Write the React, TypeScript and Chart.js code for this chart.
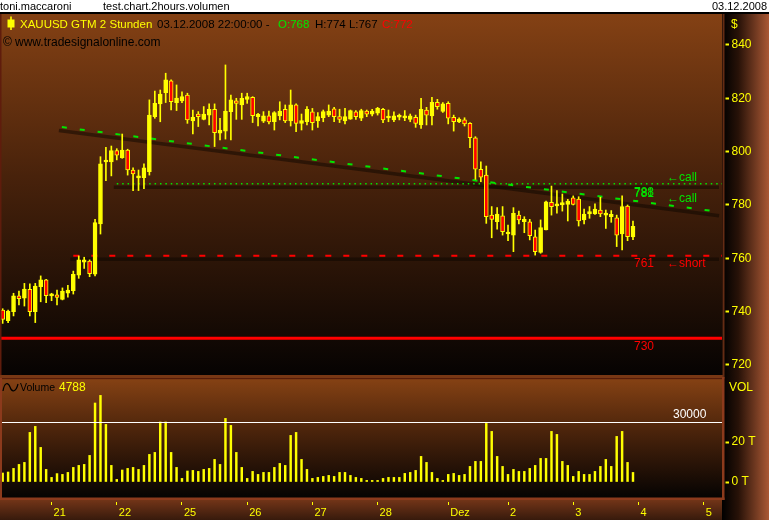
import React, { useEffect, useRef } from 'react';
import { Chart, registerables } from 'chart.js';

Chart.register(...registerables);

// ---------------- data ----------------
const openP = [740.6, 736.6, 740.0, 745.9, 745.1, 748.4, 740.0, 749.4, 751.9, 745.9, 746.3, 744.6, 746.9, 747.9, 753.7, 758.6, 759.0, 754.1, 772.9, 796.1, 796.1, 800.4, 797.6, 800.6, 793.1, 790.1, 790.2, 792.5, 813.1, 817.9, 822.1, 826.5, 818.4, 819.0, 821.2, 811.5, 814.1, 812.1, 813.7, 815.9, 806.9, 807.7, 815.0, 819.0, 817.5, 819.6, 820.4, 813.1, 811.4, 813.4, 811.2, 813.4, 815.9, 811.5, 817.5, 810.6, 811.2, 814.9, 811.5, 812.7, 813.7, 816.0, 813.1, 811.5, 812.2, 814.9, 812.5, 815.2, 814.0, 814.4, 815.9, 812.6, 811.9, 812.9, 812.6, 812.1, 812.9, 810.0, 815.6, 813.4, 818.5, 815.1, 818.1, 812.9, 811.2, 811.9, 810.6, 805.2, 793.4, 791.2, 776.2, 773.7, 775.9, 769.1, 768.7, 776.2, 773.7, 773.7, 768.1, 762.2, 770.6, 781.0, 779.6, 780.0, 780.2, 782.7, 782.2, 774.4, 776.6, 776.6, 778.1, 776.2, 775.6, 775.2, 769.1, 779.6, 768];
const highP = [741.1, 740.6, 746.9, 747.7, 750.6, 750.4, 750.6, 753.4, 752.1, 746.9, 748.1, 748.9, 749.9, 755.2, 760.9, 760.4, 759.4, 774.6, 798.1, 801.6, 802.1, 801.1, 806.6, 800.9, 793.9, 793.1, 795.4, 819.4, 822.7, 823.1, 829.4, 826.9, 825.0, 822.4, 821.9, 815.6, 815.0, 816.9, 817.9, 817.9, 812.5, 832.5, 821.2, 820.0, 821.9, 821.9, 820.6, 814.4, 815.0, 815.2, 815.0, 818.7, 817.5, 823.1, 817.9, 814.1, 816.9, 816.2, 814.6, 815.6, 817.5, 816.6, 815.9, 816.2, 815.6, 815.4, 815.9, 815.6, 815.9, 816.6, 816.2, 815.6, 814.9, 814.1, 815.4, 814.1, 813.7, 820.0, 816.6, 820.4, 819.6, 818.4, 818.7, 813.7, 812.7, 812.7, 810.9, 805.6, 796.2, 794.6, 779.4, 779.0, 779.4, 772.5, 779.0, 777.7, 775.6, 774.6, 770.6, 774.4, 781.5, 787.1, 785.4, 784.1, 782.1, 783.4, 783.1, 778.5, 779.4, 780.4, 782.9, 778.1, 777.9, 776.2, 783.4, 780.0, 774];
const lowP = [735.6, 735.9, 738.4, 742.5, 742.1, 738.4, 735.9, 743.7, 743.4, 744.1, 742.5, 744.4, 745.4, 746.6, 752.5, 756.2, 753.1, 753.4, 769.1, 789.1, 790.9, 796.9, 797.5, 791.2, 785.4, 785.4, 786.1, 791.2, 812.5, 811.2, 818.4, 815.6, 815.4, 818.4, 810.6, 806.6, 809.4, 811.9, 810.0, 801.9, 804.4, 804.7, 804.4, 812.1, 812.1, 818.1, 810.9, 809.6, 810.9, 810.4, 808.1, 811.9, 810.9, 809.6, 807.5, 808.1, 810.0, 808.1, 809.1, 811.2, 813.1, 811.2, 810.9, 810.4, 812.1, 812.1, 811.6, 813.1, 813.4, 813.7, 810.9, 811.2, 811.2, 811.9, 811.6, 811.2, 809.1, 808.7, 810.0, 810.0, 815.9, 814.7, 810.4, 807.7, 810.9, 809.6, 801.5, 789.6, 788.7, 773.1, 767.7, 770.9, 768.7, 766.6, 762.5, 772.9, 769.6, 766.9, 761.2, 761.9, 770.6, 776.2, 776.9, 777.7, 774.0, 780.0, 772.1, 772.9, 775.0, 776.5, 775.6, 771.2, 773.5, 764.4, 763.1, 766.6, 767];
const closeP = [737.1, 740.2, 745.9, 744.9, 748.5, 740.0, 749.6, 751.9, 746.0, 746.6, 745.3, 747.7, 748.1, 754.0, 759.4, 759.4, 754.2, 773.4, 795.4, 796.5, 800.4, 798.7, 800.6, 793.1, 791.6, 790.9, 793.9, 813.7, 818.1, 821.6, 826.9, 818.7, 820.1, 820.6, 811.9, 812.9, 813.1, 814.1, 815.9, 807.1, 808.1, 815.2, 819.4, 818.1, 820.0, 820.6, 813.5, 814.0, 813.4, 811.1, 814.6, 815.2, 811.5, 817.5, 810.6, 811.6, 815.9, 810.9, 813.1, 815.0, 815.2, 813.1, 812.1, 813.1, 815.4, 813.1, 815.4, 814.0, 815.2, 816.2, 811.9, 813.1, 813.4, 813.5, 813.4, 813.4, 810.6, 815.9, 813.7, 818.5, 816.9, 817.9, 812.5, 811.2, 812.2, 810.4, 805.2, 793.4, 790.4, 775.6, 774.6, 776.6, 770.0, 769.6, 776.9, 774.4, 774.6, 768.5, 762.5, 771.5, 781.2, 779.4, 780.4, 780.9, 781.5, 780.2, 774.0, 776.6, 777.5, 778.5, 776.6, 776.4, 776.5, 768.7, 779.4, 768.1, 772];
const volume = [4500, 5000, 6800, 8800, 9800, 24800, 27800, 17300, 6300, 2300, 4200, 3800, 4800, 7300, 8300, 8800, 13300, 39500, 43300, 28800, 8300, 1300, 6000, 6800, 7300, 6300, 8300, 13800, 14800, 30000, 30000, 14800, 7300, 1800, 5500, 5800, 5300, 6300, 6800, 11300, 8800, 31800, 28300, 14800, 7300, 1800, 5300, 3800, 4800, 4800, 7300, 9300, 8300, 23300, 24800, 11300, 6300, 1800, 2300, 2800, 3300, 2800, 4800, 4800, 3300, 2300, 1800, 800, 800, 800, 1800, 2300, 2300, 2300, 4300, 4800, 5800, 12800, 9800, 4800, 1800, 800, 3800, 4300, 3300, 3800, 7800, 10300, 10300, 29300, 25300, 12800, 7800, 3800, 6300, 5300, 5300, 6800, 8300, 11800, 11800, 25300, 23800, 10300, 8300, 2800, 5300, 3800, 3800, 5300, 7800, 11300, 7800, 22800, 25300, 9800, 4788];

const dayTickIdx = [9, 21, 33, 45, 57, 69, 82, 93, 105, 117, 129];
const dayLabels = ['21', '22', '25', '26', '27', '28', 'Dez', '2', '3', '4', '5'];
const priceTicks = [720, 740, 760, 780, 800, 820, 840];
const volTicks = [0, 20000];
const volTickLabels = ['0 T', '20 T'];

const trendX = [10.9, 132.4];
const trendY = [809.2, 777.3];
const trendAtLast = 781;
const callLevel = 788;
const callStart = 21;
const shortLevel = 761;
const shortStart = 13;
const stopLevel = 730;
const volRefLevel = 30000;

const userName = 'toni.maccaroni';
const chartName = 'test.chart.2hours.volumen';
const printDate = '03.12.2008';
const symbolTitle = 'XAUUSD GTM 2 Stunden';
const lastBarTime = '03.12.2008 22:00:00';
const sourceText = 'www.tradesignalonline.com';

// ---------------- styling ----------------
const YEL = '#ffff00';
const RED = '#ff0000';
const GRN = '#00e600';
const FONT = '"Liberation Sans", Arial, sans-serif';

const X_MIN = -0.491;
const X_MAX = 132.38;
const P_MIN = 716.25;
const P_MAX = 851.6;
const V_MIN = -8000;
const V_MAX = 52000;

const rightAxisGradient = (ctx: CanvasRenderingContext2D, x0: number, x1: number) => {
  const g = ctx.createLinearGradient(x0, 0, x1, 0);
  g.addColorStop(0, 'rgb(0,0,0)');
  g.addColorStop(0.35, 'rgb(40,18,8)');
  g.addColorStop(1, 'rgb(170,88,52)');
  return g;
};

export default function App() {
  const priceRef = useRef<HTMLCanvasElement>(null);
  const volRef = useRef<HTMLCanvasElement>(null);

  useEffect(() => {
    const n = openP.length;
    const idx = openP.map((_, i) => i);
    const last = n - 1;

    const pricePlugin = {
      id: 'pricePlugin',
      beforeDraw(chart: any) {
        const { ctx, chartArea: a } = chart;
        const W = chart.width;
        const H = chart.height;
        ctx.save();
        ctx.fillStyle = '#ffffff';
        ctx.fillRect(0, 0, W, 12);
        ctx.fillStyle = '#000000';
        ctx.fillRect(0, 12, W, 2);
        const g = ctx.createLinearGradient(0, a.top, 0, a.bottom);
        g.addColorStop(0, 'rgb(132,65,20)');
        g.addColorStop(0.45, 'rgb(72,34,11)');
        g.addColorStop(1, 'rgb(6,3,2)');
        ctx.fillStyle = g;
        ctx.fillRect(a.left, a.top, a.right - a.left, a.bottom - a.top);
        ctx.fillStyle = rightAxisGradient(ctx, a.right, W);
        ctx.fillRect(a.right, 14, W - a.right, H - 14);
        ctx.fillStyle = 'rgb(120,55,20)';
        ctx.fillRect(0, a.bottom, a.right + 2, H - a.bottom);
        ctx.restore();
      },
      beforeDatasetsDraw(chart: any) {
        const { ctx, chartArea: a } = chart;
        const xs = chart.scales.x;
        const ys = chart.scales.y;
        ctx.save();
        ctx.beginPath();
        ctx.rect(a.left, a.top, a.right - a.left, a.bottom - a.top);
        ctx.clip();
        ctx.strokeStyle = 'rgba(12,5,0,0.5)';
        ctx.lineWidth = 3.5;
        const seg = (x0: number, y0: number, x1: number, y1: number) => {
          ctx.beginPath();
          ctx.moveTo(xs.getPixelForValue(x0) - 3, ys.getPixelForValue(y0) + 3.5);
          ctx.lineTo(xs.getPixelForValue(x1) - 3, ys.getPixelForValue(y1) + 3.5);
          ctx.stroke();
        };
        seg(trendX[0], trendY[0], trendX[1], trendY[1]);
        seg(callStart, callLevel, X_MAX, callLevel);
        seg(shortStart, shortLevel, X_MAX, shortLevel);
        ctx.restore();
      },
      afterDraw(chart: any) {
        const { ctx, chartArea: a } = chart;
        const ys = chart.scales.y;
        const yp = (v: number) => ys.getPixelForValue(v);
        ctx.save();
        // frame
        ctx.fillStyle = 'rgb(95,28,12)';
        ctx.fillRect(0, a.top, 1.5, a.bottom - a.top);
        ctx.fillStyle = 'rgb(100,44,20)';
        ctx.fillRect(a.right + 0.5, a.top, 2, a.bottom - a.top + 2);

        ctx.textAlign = 'left';
        ctx.textBaseline = 'alphabetic';
        ctx.font = `11px ${FONT}`;
        ctx.fillStyle = '#000';
        ctx.fillText(userName, 0, 10);
        ctx.fillText(chartName, 103, 10);
        ctx.textAlign = 'right';
        ctx.fillText(printDate, 767, 10);
        ctx.textAlign = 'left';

        // header line 1
        ctx.fillStyle = YEL;
        ctx.fillRect(10.2, 16.5, 1.6, 13.5);
        ctx.fillRect(7.5, 19.5, 7, 8);
        ctx.font = `11.5px ${FONT}`;
        ctx.fillText(symbolTitle, 20, 28);
        ctx.fillStyle = '#000';
        ctx.fillText(`${lastBarTime} -`, 157, 28);
        ctx.fillStyle = GRN;
        ctx.fillText(`O:${openP[last]}`, 278, 28);
        ctx.fillStyle = '#000';
        ctx.fillText(`H:${highP[last]} L:${lowP[last]}`, 315, 28);
        ctx.fillStyle = RED;
        ctx.fillText(`C:${closeP[last]}`, 382, 28);
        // header line 2
        ctx.font = `12px ${FONT}`;
        ctx.fillStyle = '#000';
        ctx.fillText('\u00a9', 3, 45.5);
        ctx.fillText(sourceText, 15, 45.5);
        ctx.fillStyle = YEL;
        ctx.fillText('$', 731, 28);

        // level labels
        ctx.font = `12px ${FONT}`;
        ctx.fillStyle = GRN;
        ctx.fillText('\u2190', 667, yp(callLevel) - 3);
        ctx.fillText('call', 679, yp(callLevel) - 3);
        ctx.fillText('\u2190', 667, yp(trendAtLast));
        ctx.fillText('call', 679, yp(trendAtLast));
        ctx.fillText(String(callLevel), 634, yp(callLevel) + 12);
        ctx.fillText(String(trendAtLast), 634, yp(trendAtLast) - 5);
        ctx.fillStyle = RED;
        ctx.fillText(String(shortLevel), 634, yp(shortLevel) + 11);
        ctx.fillText('\u2190', 667, yp(shortLevel) + 11);
        ctx.fillText('short', 679, yp(shortLevel) + 11);
        ctx.fillText(String(stopLevel), 634, yp(stopLevel) + 12);
        ctx.restore();
      },
    };

    const c1 = new Chart(priceRef.current as HTMLCanvasElement, {
      type: 'bar',
      data: {
        datasets: [
          {
            type: 'bar',
            label: 'body',
            data: idx.map((i) => ({ x: i, y: [openP[i], closeP[i]] })) as any,
            backgroundColor: idx.map((i) => (closeP[i] >= openP[i] ? YEL : RED)),
            borderColor: YEL,
            borderWidth: 1,
            borderSkipped: false,
            barThickness: 4,
            minBarLength: 2,
            grouped: false,
            order: 1,
          } as any,
          {
            type: 'bar',
            label: 'wick',
            data: idx.map((i) => ({ x: i, y: [lowP[i], highP[i]] })) as any,
            backgroundColor: YEL,
            borderWidth: 0,
            barThickness: 1,
            grouped: false,
            order: 2,
          } as any,
          {
            type: 'line',
            label: 'trend',
            data: trendX.map((x, k) => ({ x, y: trendY[k] })),
            borderColor: GRN,
            borderWidth: 2,
            borderDash: [5, 13],
            pointRadius: 0,
            tension: 0,
            order: 3,
          } as any,
          {
            type: 'line',
            label: 'call',
            data: [{ x: callStart, y: callLevel }, { x: X_MAX, y: callLevel }],
            borderColor: GRN,
            borderWidth: 1.5,
            borderDash: [1.5, 3.9],
            pointRadius: 0,
            order: 3,
          } as any,
          {
            type: 'line',
            label: 'short',
            data: [{ x: shortStart, y: shortLevel }, { x: X_MAX, y: shortLevel }],
            borderColor: RED,
            borderWidth: 2,
            borderDash: [6, 12],
            pointRadius: 0,
            order: 3,
          } as any,
          {
            type: 'line',
            label: 'stop',
            data: [{ x: X_MIN, y: stopLevel }, { x: X_MAX, y: stopLevel }],
            borderColor: RED,
            borderWidth: 3,
            pointRadius: 0,
            order: 3,
          } as any,
        ],
      },
      options: {
        responsive: false,
        animation: false,
        events: [],
        layout: { padding: { top: 14, bottom: 2, left: 0, right: 0 } },
        plugins: { legend: { display: false }, tooltip: { enabled: false } },
        scales: {
          x: {
            type: 'linear',
            min: X_MIN,
            max: X_MAX,
            display: false,
            offset: false,
            grid: { offset: false },
          },
          y: {
            type: 'linear',
            position: 'right',
            min: P_MIN,
            max: P_MAX,
            afterBuildTicks: (s: any) => {
              s.ticks = priceTicks.map((v) => ({ value: v }));
            },
            afterFit: (s: any) => {
              s.width = 47;
              s.paddingTop = 0;
              s.paddingBottom = 0;
            },
            grid: {
              drawOnChartArea: false,
              drawTicks: true,
              tickLength: 7,
              tickColor: YEL,
              tickWidth: 2,
              tickBorderDash: [0, 3.5, 4, 20],
            },
            border: { display: false },
            ticks: {
              color: YEL,
              font: { family: FONT, size: 12 },
              padding: 2.5,
              callback: (v: any) => String(v),
            },
          },
        },
      } as any,
      plugins: [pricePlugin],
    });

    const volPlugin = {
      id: 'volPlugin',
      beforeDraw(chart: any) {
        const { ctx, chartArea: a } = chart;
        const W = chart.width;
        const H = chart.height;
        ctx.save();
        const g = ctx.createLinearGradient(0, a.top, 0, a.bottom);
        g.addColorStop(0, 'rgb(134,66,20)');
        g.addColorStop(0.45, 'rgb(74,35,11)');
        g.addColorStop(1, 'rgb(5,3,2)');
        ctx.fillStyle = g;
        ctx.fillRect(a.left, a.top, a.right - a.left, a.bottom - a.top);
        const gb = ctx.createLinearGradient(0, a.bottom, 0, H);
        gb.addColorStop(0, 'rgb(120,55,25)');
        gb.addColorStop(1, 'rgb(55,26,12)');
        ctx.fillStyle = gb;
        ctx.fillRect(0, a.bottom, a.right, H - a.bottom);
        ctx.fillStyle = rightAxisGradient(ctx, a.right, W);
        ctx.fillRect(a.right, 0, W - a.right, H);
        ctx.restore();
      },
      afterDatasetsDraw(chart: any) {
        const { ctx, chartArea: a } = chart;
        const y = Math.round(chart.scales.y.getPixelForValue(volRefLevel)) + 0.5;
        ctx.save();
        ctx.strokeStyle = '#ffffff';
        ctx.lineWidth = 1;
        ctx.beginPath();
        ctx.moveTo(a.left, y);
        ctx.lineTo(a.right, y);
        ctx.stroke();
        ctx.restore();
      },
      afterDraw(chart: any) {
        const { ctx, chartArea: a } = chart;
        const ys = chart.scales.y;
        ctx.save();
        ctx.fillStyle = 'rgb(120,55,20)';
        ctx.fillRect(0, 0, a.right + 2.5, 1);
        ctx.fillStyle = 'rgb(85,28,10)';
        ctx.fillRect(0, 1, a.right + 2.5, 1.2);
        ctx.fillStyle = 'rgb(140,58,28)';
        ctx.fillRect(0, a.top, 2, a.bottom - a.top);
        ctx.fillRect(a.right, 0, 2.5, a.bottom + 2);
        ctx.fillRect(0, a.bottom - 0.5, a.right + 2.5, 2.5);

        // title
        ctx.strokeStyle = '#000';
        ctx.lineWidth = 1.2;
        ctx.beginPath();
        ctx.moveTo(3, 14);
        ctx.bezierCurveTo(4.5, 5, 8, 5, 10, 10);
        ctx.bezierCurveTo(12, 16, 16, 15, 18, 7);
        ctx.stroke();
        ctx.textAlign = 'left';
        ctx.textBaseline = 'alphabetic';
        ctx.font = `10.5px ${FONT}`;
        ctx.fillStyle = '#000';
        ctx.fillText('Volume', 20, 14);
        ctx.font = `12px ${FONT}`;
        ctx.fillStyle = YEL;
        ctx.fillText(String(volume[volume.length - 1]), 59, 14);
        ctx.fillText('VOL', 729, 14);
        ctx.fillStyle = '#ffffff';
        ctx.fillText(String(volRefLevel), 673, ys.getPixelForValue(volRefLevel) - 4);
        ctx.restore();
      },
    };

    const c2 = new Chart(volRef.current as HTMLCanvasElement, {
      type: 'bar',
      data: {
        datasets: [
          {
            type: 'bar',
            label: 'Volume',
            data: volume.map((v, i) => ({ x: i, y: v })) as any,
            backgroundColor: YEL,
            borderWidth: 0,
            barThickness: 1.8,
          } as any,
        ],
      },
      options: {
        responsive: false,
        animation: false,
        events: [],
        layout: { padding: { top: 1, bottom: 0, left: 0, right: 0 } },
        plugins: { legend: { display: false }, tooltip: { enabled: false } },
        scales: {
          x: {
            type: 'linear',
            position: 'bottom',
            min: X_MIN,
            max: X_MAX,
            offset: false,
            afterBuildTicks: (s: any) => {
              s.ticks = dayTickIdx.map((v) => ({ value: v }));
            },
            afterFit: (s: any) => {
              s.height = 22;
              s.paddingLeft = 0;
              s.paddingRight = 0;
            },
            grid: {
              drawOnChartArea: false,
              offset: false,
              tickLength: 7,
              tickColor: YEL,
              tickWidth: 1,
              tickBorderDash: [0, 4, 3, 20],
            },
            border: { display: false },
            ticks: {
              autoSkip: false,
              maxRotation: 0,
              align: 'start',
              labelOffset: 2,
              padding: 1,
              color: YEL,
              font: { family: FONT, size: 11 },
              callback: (_v: any, i: number) => dayLabels[i] ?? '',
            },
          },
          y: {
            type: 'linear',
            position: 'right',
            min: V_MIN,
            max: V_MAX,
            afterBuildTicks: (s: any) => {
              s.ticks = volTicks.map((v) => ({ value: v }));
            },
            afterFit: (s: any) => {
              s.width = 47;
              s.paddingTop = 0;
              s.paddingBottom = 0;
            },
            grid: {
              drawOnChartArea: false,
              tickLength: 7,
              tickColor: YEL,
              tickWidth: 2,
              tickBorderDash: [0, 3.5, 4, 20],
            },
            border: { display: false },
            ticks: {
              color: YEL,
              font: { family: FONT, size: 12 },
              padding: 2.5,
              callback: (_v: any, i: number) => volTickLabels[i] ?? '',
            },
          },
        },
      } as any,
      plugins: [volPlugin],
    });

    return () => {
      c1.destroy();
      c2.destroy();
    };
  }, []);

  return (
    <div style={{ position: 'fixed', left: 0, top: 0, width: 769, height: 520, background: '#fff', overflow: 'hidden' }}>
      <canvas ref={priceRef} width={769} height={377} style={{ position: 'absolute', left: 0, top: 0 }} />
      <canvas ref={volRef} width={769} height={143} style={{ position: 'absolute', left: 0, top: 377 }} />
    </div>
  );
}
